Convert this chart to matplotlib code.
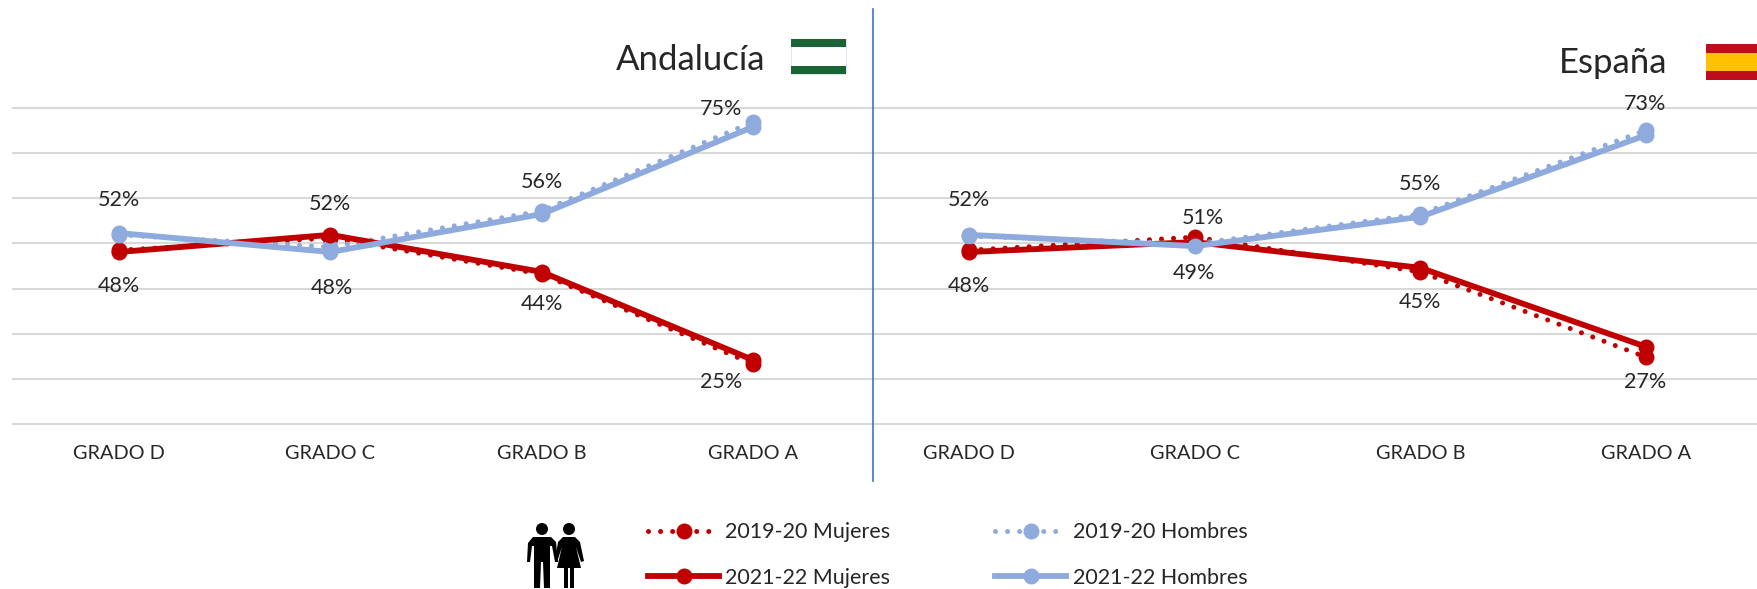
import matplotlib
matplotlib.use('Agg')
import matplotlib.pyplot as plt
from matplotlib.patches import Rectangle, Circle, Polygon

plt.rcParams['font.family'] = ['Lato', 'DejaVu Sans']

W, H = 1758, 589

CATEGORIES = ['GRADO D', 'GRADO C', 'GRADO B', 'GRADO A']
GRID_TICKS = [10, 20, 30, 40, 50, 60, 70, 80]

# values, in %
AND_M_1920 = [48.5, 51.2, 43.2, 23.3]
AND_H_1920 = [51.9, 49.2, 57.2, 76.9]
AND_M_2122 = [48.1, 51.9, 43.7, 24.2]
AND_H_2122 = [52.3, 48.1, 56.5, 75.8]

ESP_M_1920 = [48.5, 51.4, 43.7, 24.8]
ESP_H_1920 = [51.6, 49.9, 56.5, 75.1]
ESP_M_2122 = [48.1, 50.3, 44.6, 27.1]
ESP_H_2122 = [51.9, 49.4, 55.9, 74.0]

# the labels printed in the picture
AND_H_LABELS = ['52%', None, '56%', '75%']
AND_M_LABELS = ['48%', None, '44%', '25%']
AND_C_LABELS = ['52%', '48%']
ESP_H_LABELS = ['52%', '49%', '55%', '73%']
ESP_M_LABELS = ['48%', '51%', '45%', '27%']

RED = '#c00000'
BLUE = '#8faadc'
GRID = '#d9d9d9'
TEXT = '#262626'


def px_box(left, top, right, bottom):
    return [left / W, 1 - bottom / H, (right - left) / W, (bottom - top) / H]


def draw_panel(ax, m_old, h_old, m_new, h_new, x0, step):
    x = list(range(len(CATEGORIES)))
    box = ax.get_position()
    left = box.x0 * W
    right = box.x1 * W
    ax.set_xlim((left - x0) / step, (right - x0) / step)
    ax.set_ylim(10, 80)
    for s in ax.spines.values():
        s.set_visible(False)
    ax.set_yticks(GRID_TICKS)
    ax.set_yticklabels([])
    ax.set_xticks(x)
    ax.set_xticklabels(CATEGORIES, fontsize=14.3, color=TEXT)
    ax.tick_params(axis='both', length=0)
    ax.tick_params(axis='x', pad=15)
    ax.grid(axis='y', color=GRID, lw=1.5, clip_on=False)
    ax.set_axisbelow(True)

    dotted = dict(lw=3.6, dashes=(0.01, 2.4), dash_capstyle='round', marker='o', ms=11.5, mew=0, clip_on=False)
    solid = dict(lw=4.2, marker='o', ms=11.5, mew=0, clip_on=False, solid_capstyle='round')
    ax.plot(x, m_old, color=RED, **dotted)
    ax.plot(x, h_old, color=BLUE, **dotted)
    ax.plot(x, m_new, color=RED, **solid)
    ax.plot(x, h_new, color=BLUE, **solid)


def put_label(ax, x, y, txt, dx, dy):
    # offset in pixels from the point
    ax.annotate(txt, (x, y), xytext=(dx * 0.72, -dy * 0.72), textcoords='offset points',
                ha='center', va='center', fontsize=15.5, color=TEXT, annotation_clip=False)


fig = plt.figure(figsize=(W / 100, H / 100), dpi=100, facecolor='white')

ax1 = fig.add_axes(px_box(13, 108, 873, 424))
ax2 = fig.add_axes(px_box(873, 108, 1758, 424))
draw_panel(ax1, AND_M_1920, AND_H_1920, AND_M_2122, AND_H_2122, 119, 211.3)
draw_panel(ax2, ESP_M_1920, ESP_H_1920, ESP_M_2122, ESP_H_2122, 969, 225.7)

# data labels, Andalucía
put_label(ax1, 0, AND_H_2122[0], AND_H_LABELS[0], 0, -33)
put_label(ax1, 0, AND_M_2122[0], AND_M_LABELS[0], 0, 34)
put_label(ax1, 1, AND_M_2122[1], AND_C_LABELS[0], 0, -31)
put_label(ax1, 1, AND_H_2122[1], AND_C_LABELS[1], 2, 36)
put_label(ax1, 2, AND_H_2122[2], AND_H_LABELS[2], 0, -32)
put_label(ax1, 2, AND_M_2122[2], AND_M_LABELS[2], 0, 32)
put_label(ax1, 3, AND_H_2122[3], AND_H_LABELS[3], -32, -18)
put_label(ax1, 3, AND_M_2122[3], AND_M_LABELS[3], -32, 22)

# data labels, España
put_label(ax2, 0, ESP_H_2122[0], ESP_H_LABELS[0], 0, -35)
put_label(ax2, 0, ESP_M_2122[0], ESP_M_LABELS[0], 0, 34)
put_label(ax2, 1, ESP_H_2122[1], ESP_H_LABELS[1], -1, 27)
put_label(ax2, 1, ESP_M_2122[1], ESP_M_LABELS[1], 8, -24)
put_label(ax2, 2, ESP_H_2122[2], ESP_H_LABELS[2], 0, -33)
put_label(ax2, 2, ESP_M_2122[2], ESP_M_LABELS[2], 0, 34)
put_label(ax2, 3, ESP_H_2122[3], ESP_H_LABELS[3], -1, -31)
put_label(ax2, 3, ESP_M_2122[3], ESP_M_LABELS[3], -1, 35)

# overlay in pixel coordinates for divider, flags and the people icon
ov = fig.add_axes([0, 0, 1, 1], zorder=5)
ov.set_xlim(0, W)
ov.set_ylim(H, 0)
ov.axis('off')
ov.patch.set_alpha(0)

ov.plot([873, 873], [9, 481], color='#4472c4', lw=1.2)

ov.text(765, 60, 'Andalucía', fontsize=25, color=TEXT, ha='right', va='center')
ov.text(1667, 63, 'España', fontsize=25, color=TEXT, ha='right', va='center')

# flags
ov.add_patch(Rectangle((791, 39), 55, 35, fc='white', ec='#dfe6f2', lw=0.8))
ov.add_patch(Rectangle((791, 39), 55, 8, fc='#1a6334', ec='none'))
ov.add_patch(Rectangle((791, 66), 55, 8, fc='#1a6334', ec='none'))
ov.add_patch(Rectangle((1706, 44), 52, 36, fc='#c00d1e', ec='none'))
ov.add_patch(Rectangle((1706, 53), 52, 18, fc='#ffc000', ec='none'))

# people icon
ov.add_patch(Circle((542, 529), 6, fc='black', ec='none'))
ov.add_patch(Circle((569, 529), 6, fc='black', ec='none'))
ov.add_patch(Polygon([(533, 537), (551, 537), (556, 542), (558, 562), (555, 562), (552, 546), (550, 546),
                      (550, 588), (544, 588), (543, 562), (541, 562), (540, 588), (534, 588), (534, 546),
                      (532, 546), (530, 562), (527, 562), (528, 543)], fc='black', ec='none'))
ov.add_patch(Polygon([(563, 537), (575, 537), (580, 542), (584, 561), (581, 562), (576, 547), (581, 568),
                      (574, 568), (574, 588), (570, 588), (570, 568), (568, 568), (568, 588), (564, 588),
                      (564, 568), (557, 568), (562, 547), (557, 562), (555, 561), (558, 542)], fc='black', ec='none'))

# legend
dot_kw = dict(lw=3.6, dashes=(0.01, 2.4), dash_capstyle='round', marker='o', ms=11.5, mew=0)
sol_kw = dict(lw=4.2, marker='o', ms=11.5, mew=0)
h1, = ov.plot([], [], color=RED, label='2019-20 Mujeres', **dot_kw)
h2, = ov.plot([], [], color=RED, label='2021-22 Mujeres', **sol_kw)
h3, = ov.plot([], [], color=BLUE, label='2019-20 Hombres', **dot_kw)
h4, = ov.plot([], [], color=BLUE, label='2021-22 Hombres', **sol_kw)
leg = fig.legend(handles=[h1, h2, h3, h4], ncols=2, numpoints=1, frameon=False, fontsize=15.5,
                 labelcolor=TEXT, loc='center left', bbox_to_anchor=(648 / W, 1 - 555 / H),
                 borderaxespad=0, borderpad=0, handlelength=3.3, handletextpad=0.3,
                 columnspacing=4.85, labelspacing=1.2)

fig.savefig('out.png', dpi=100)
